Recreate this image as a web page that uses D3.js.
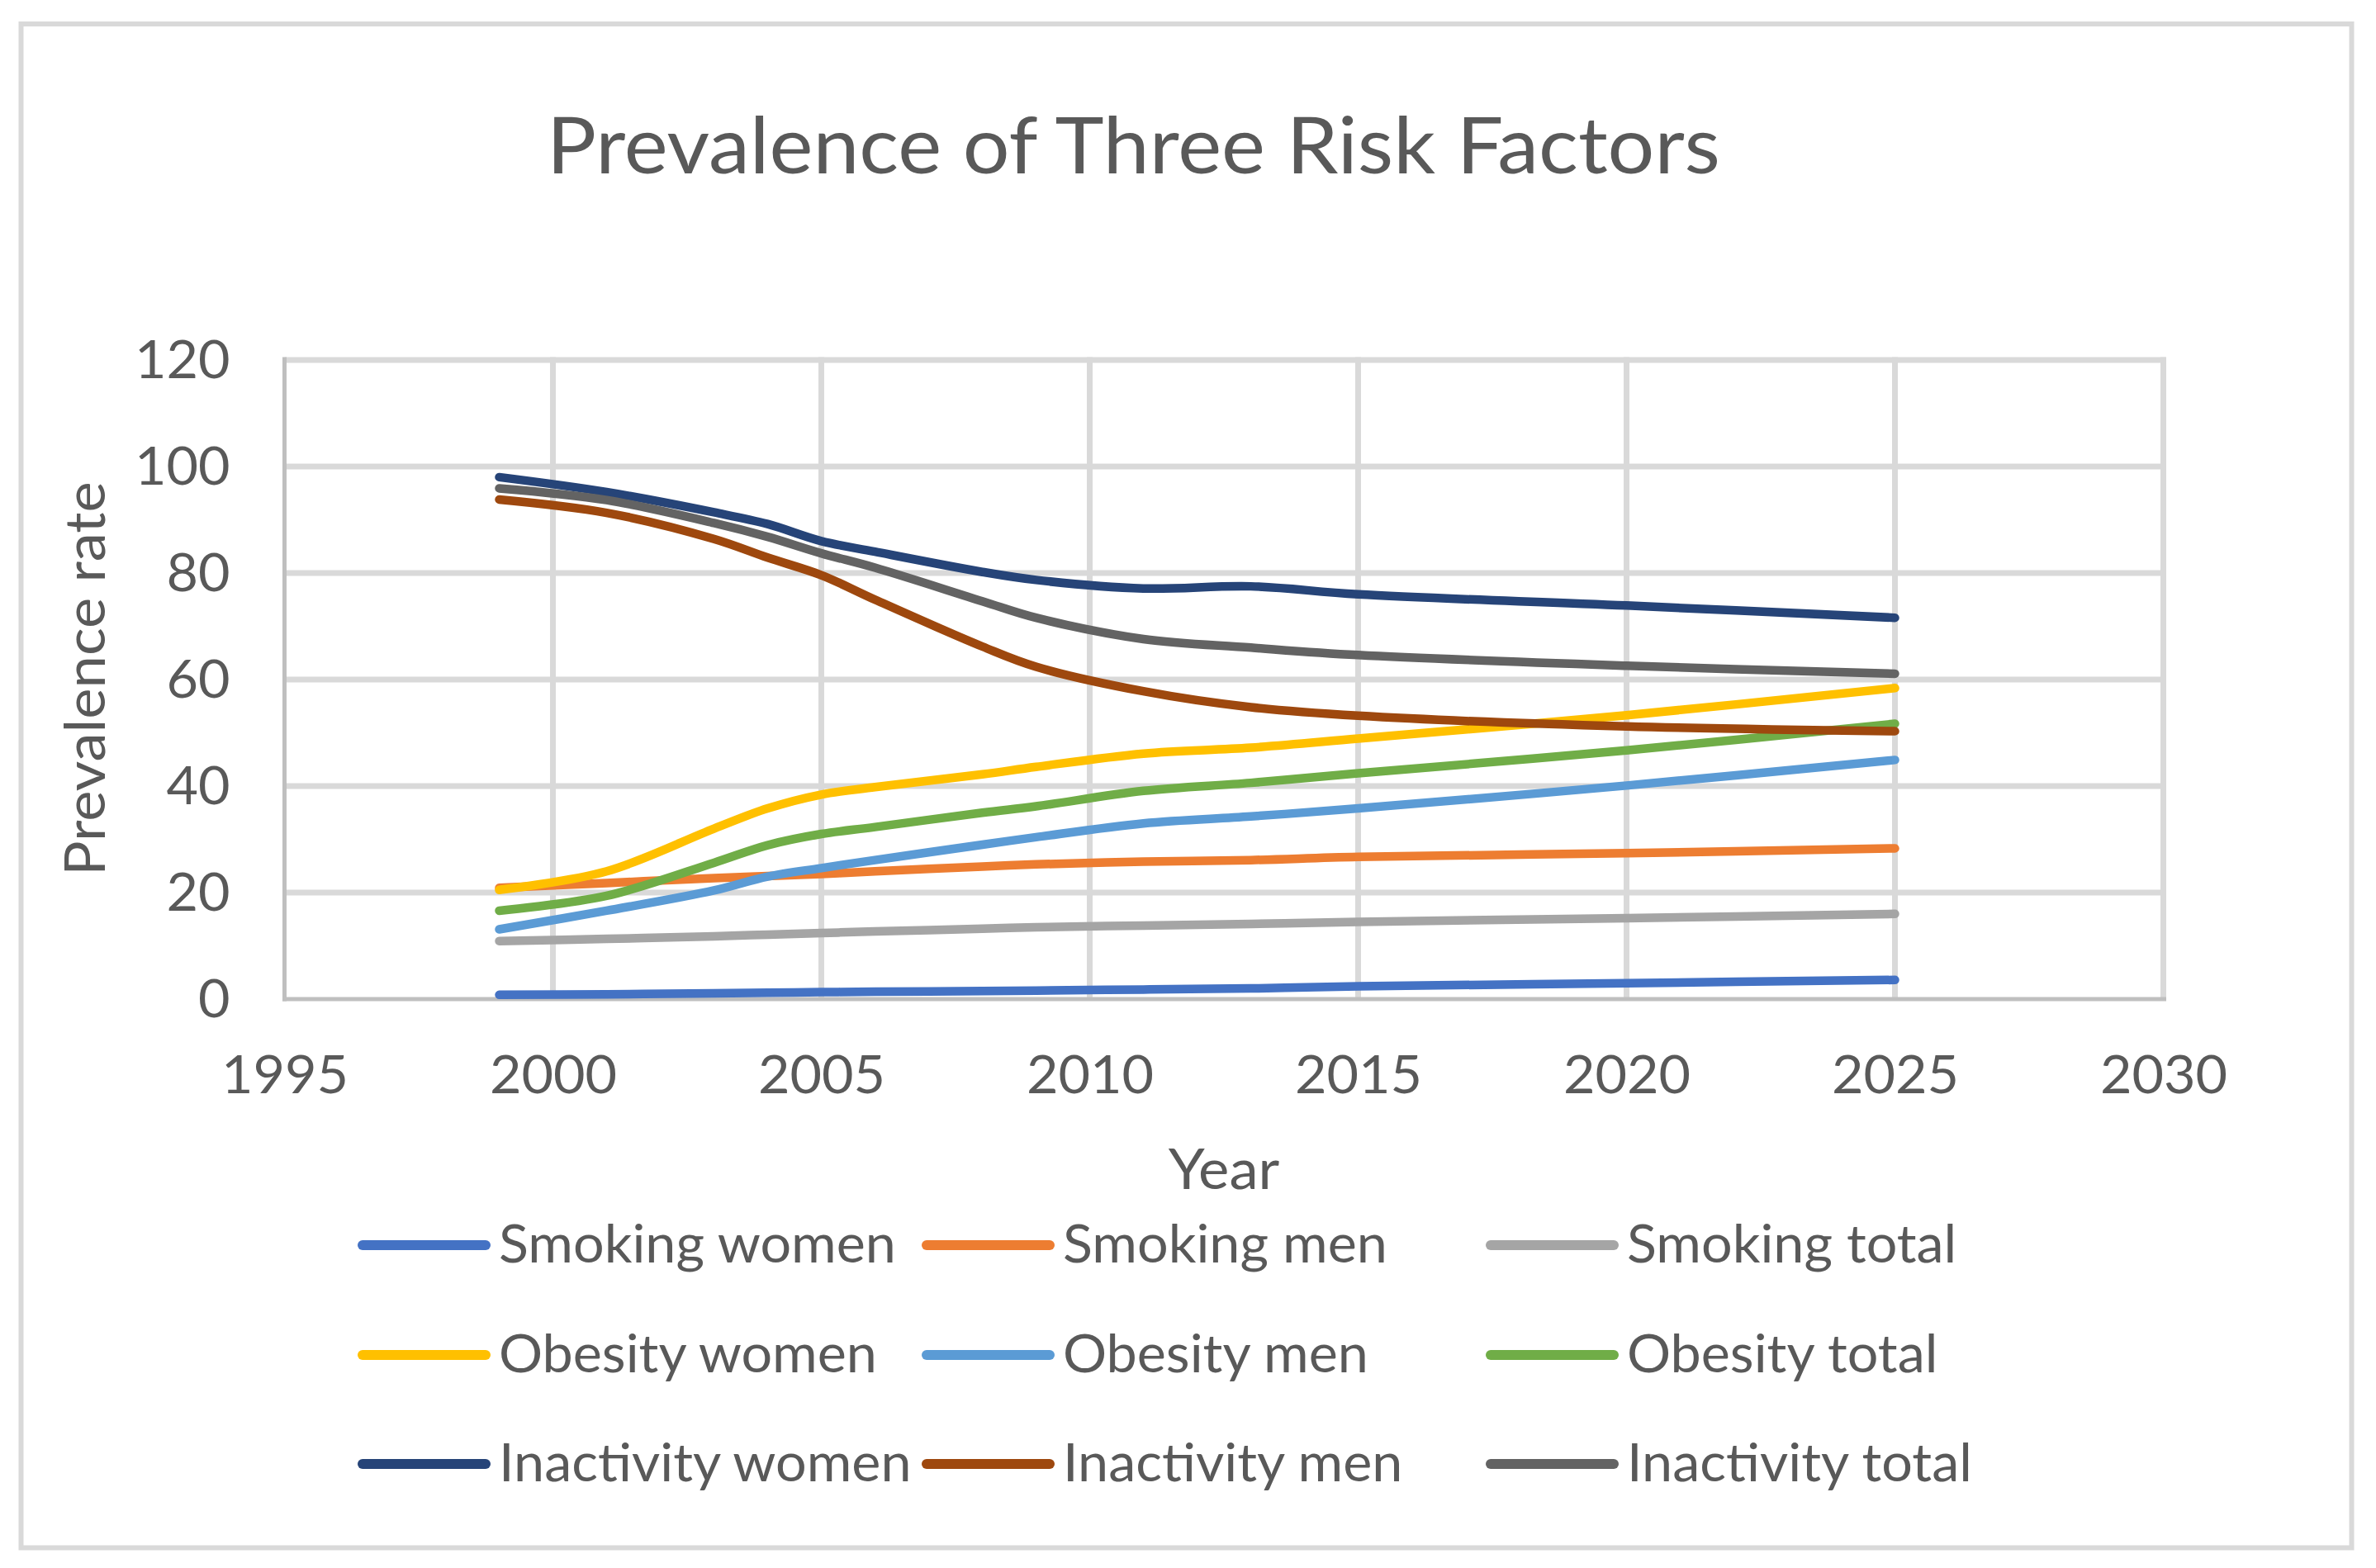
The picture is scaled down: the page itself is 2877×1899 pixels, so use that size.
<!DOCTYPE html>
<html>
<head>
<meta charset="utf-8">
<script src="https://cdn.jsdelivr.net/npm/d3@7"></script>
<style>
  html, body { margin: 0; padding: 0; background: #ffffff; }
  svg { display: block; }
  text { font-family: Lato, "Open Sans", sans-serif; fill: #595959; }
</style>
</head>
<body>
<script>
// ---------- data ----------
const years = [1999, 2001, 2003, 2004, 2005, 2006, 2008, 2009, 2011, 2013, 2015, 2020, 2025];

const smokingWomen    = [0.8, 0.9, 1.1, 1.2, 1.3, 1.4, 1.5, 1.6, 1.8, 2.0, 2.4, 3.0, 3.6];
const smokingMen      = [20.9, 21.8, 22.7, 23.1, 23.5, 24.0, 24.9, 25.3, 25.8, 26.1, 26.7, 27.4, 28.3];
const smokingTotal    = [10.9, 11.3, 11.8, 12.1, 12.4, 12.7, 13.2, 13.5, 13.8, 14.1, 14.5, 15.2, 16.0];
const obesityWomen    = [20.5, 24.0, 32.0, 35.8, 38.4, 39.8, 42.2, 43.6, 46.1, 47.2, 48.9, 53.3, 58.4];
const obesityMen      = [13.1, 16.6, 20.4, 23.0, 24.6, 26.1, 29.0, 30.4, 33.0, 34.3, 35.8, 40.1, 44.9];
const obesityTotal    = [16.6, 19.4, 25.6, 28.9, 31.0, 32.3, 35.0, 36.2, 39.1, 40.6, 42.4, 46.7, 51.7];
const inactivityWomen = [98.0, 95.2, 91.4, 89.2, 86.0, 84.0, 80.2, 78.7, 77.1, 77.5, 76.0, 73.9, 71.6];
const inactivityMen   = [93.8, 91.3, 86.4, 82.9, 79.6, 75.0, 66.2, 62.4, 57.8, 54.8, 53.2, 51.2, 50.3];
const inactivityTotal = [95.9, 93.7, 89.4, 86.8, 83.7, 81.0, 74.7, 71.6, 67.6, 66.0, 64.6, 62.6, 61.1];

const seriesNames = ["Smoking women", "Smoking men", "Smoking total",
                     "Obesity women", "Obesity men", "Obesity total",
                     "Inactivity women", "Inactivity men", "Inactivity total"];
const seriesValues = [smokingWomen, smokingMen, smokingTotal,
                      obesityWomen, obesityMen, obesityTotal,
                      inactivityWomen, inactivityMen, inactivityTotal];
const seriesColors = ["#4472C4", "#ED7D31", "#A5A5A5",
                      "#FFC000", "#5B9BD5", "#70AD47",
                      "#264478", "#9E480E", "#636363"];

const xTicks = [1995, 2000, 2005, 2010, 2015, 2020, 2025, 2030];
const yTicks = [0, 20, 40, 60, 80, 100, 120];

const chartTitle = "Prevalence of Three Risk Factors";
const xTitle = "Year";
const yTitle = "Prevalence rate";

// ---------- layout ----------
const W = 2877, H = 1899;
const plot = { left: 344.5, right: 2619.5, top: 436, bottom: 1210 };
const textColor = "#595959";
const gridColor = "#d9d9d9";
const axisColor = "#bfbfbf";

const svg = d3.select("body").append("svg")
  .attr("width", W).attr("height", H);

svg.append("rect").attr("x", 0).attr("y", 0).attr("width", W).attr("height", H).attr("fill", "#fff");
// chart border
svg.append("rect")
  .attr("x", 25.5).attr("y", 29).attr("width", 2822).attr("height", 1845.5)
  .attr("fill", "#fff").attr("stroke", gridColor).attr("stroke-width", 6);

const x = d3.scaleLinear().domain([1995, 2030]).range([plot.left, plot.right]);
const y = d3.scaleLinear().domain([0, 120]).range([plot.bottom, plot.top]);

// gridlines
const grid = svg.append("g");
grid.selectAll("line.h").data(yTicks.filter(d => d > 0)).join("line")
  .attr("x1", plot.left).attr("x2", plot.right + 3.5)
  .attr("y1", d => y(d)).attr("y2", d => y(d))
  .attr("stroke", gridColor).attr("stroke-width", 7);
grid.selectAll("line.v").data(xTicks.filter(d => d > 1995)).join("line")
  .attr("x1", d => x(d)).attr("x2", d => x(d))
  .attr("y1", plot.top - 3.5).attr("y2", plot.bottom)
  .attr("stroke", gridColor).attr("stroke-width", 7);

// axes (labels drawn via d3 axis generators)
const xAxis = d3.axisBottom(x).tickValues(xTicks).tickFormat(d3.format("d")).tickSize(0).tickPadding(0);
const yAxis = d3.axisLeft(y).tickValues(yTicks).tickSize(0).tickPadding(0);

const gx = svg.append("g").attr("transform", `translate(0,${plot.bottom})`).call(xAxis);
gx.select(".domain").remove();
gx.selectAll("text")
  .attr("y", 114).attr("dy", null)
  .attr("font-size", 63).attr("fill", textColor)
  .style("font-family", "Lato");

const gy = svg.append("g").attr("transform", `translate(${plot.left},0)`).call(yAxis);
gy.select(".domain").remove();
gy.selectAll("text")
  .attr("x", -66).attr("dy", null).attr("y", 21)
  .attr("font-size", 63).attr("fill", textColor)
  .style("font-family", "Lato");

// axis lines
svg.append("line").attr("x1", plot.left).attr("x2", plot.left)
  .attr("y1", plot.top - 3.5).attr("y2", plot.bottom + 2.5)
  .attr("stroke", axisColor).attr("stroke-width", 5);
svg.append("line").attr("x1", plot.left - 2.5).attr("x2", plot.right + 3.5)
  .attr("y1", plot.bottom).attr("y2", plot.bottom)
  .attr("stroke", axisColor).attr("stroke-width", 5);

// series
const line = d3.line()
  .x((d, i) => x(years[i]))
  .y(d => y(d))
  .curve(d3.curveCatmullRom.alpha(0.5));

svg.append("g").selectAll("path").data(seriesValues).join("path")
  .attr("d", d => line(d))
  .attr("fill", "none")
  .attr("stroke", (d, i) => seriesColors[i])
  .attr("stroke-width", 10.5)
  .attr("stroke-linecap", "round")
  .attr("stroke-linejoin", "round");

// titles
const title = svg.append("text")
  .attr("x", 1372.5).attr("y", 210)
  .attr("text-anchor", "middle")
  .attr("font-size", 95)
  .text(chartTitle);

svg.append("text")
  .attr("x", 1482).attr("y", 1440)
  .attr("text-anchor", "middle")
  .attr("font-size", 67)
  .text(xTitle);

svg.append("text")
  .attr("transform", "translate(127,822) rotate(-90)")
  .attr("text-anchor", "middle")
  .attr("font-size", 67)
  .text(yTitle);

// legend
const legCols = [433, 1116, 1799];
const legRows = [1508, 1641, 1773];
const leg = svg.append("g").selectAll("g").data(seriesNames).join("g")
  .attr("transform", (d, i) => `translate(${legCols[i % 3]},${legRows[Math.floor(i / 3)]})`);
leg.append("line")
  .attr("x1", 6).attr("x2", 155).attr("y1", 0).attr("y2", 0)
  .attr("stroke", (d, i) => seriesColors[i])
  .attr("stroke-width", 12)
  .attr("stroke-linecap", "round");
leg.append("text")
  .attr("x", 171).attr("y", 21)
  .attr("font-size", 63)
  .text(d => d);

// condense text horizontally to approximate the narrower original face
const natural = title.node().getComputedTextLength();
const ratio = 1421 / natural;
svg.selectAll("text").each(function() {
  const t = d3.select(this);
  const w = this.getComputedTextLength();
  t.attr("textLength", w * ratio).attr("lengthAdjust", "spacingAndGlyphs");
});
</script>
</body>
</html>
